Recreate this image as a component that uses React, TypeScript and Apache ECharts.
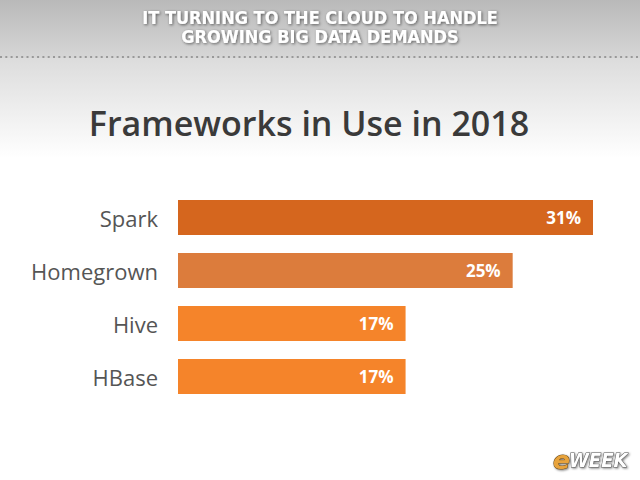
import React, { useEffect, useRef } from "react";
import * as echarts from "echarts";

const categories = ["Spark", "Homegrown", "Hive", "HBase"];
const values = [31, 25, 17, 17];
const barColors = ["#D5661E", "#DC7C3C", "#F5842A", "#F5842A"];
const headerLines = ["IT TURNING TO THE CLOUD TO HANDLE", "GROWING BIG DATA DEMANDS"];
const chartTitle = "Frameworks in Use in 2018";

export default function App() {
  const ref = useRef<HTMLDivElement>(null);
  useEffect(() => {
    if (!ref.current) return;
    const chart = echarts.init(ref.current, null, { renderer: "svg" });
    chart.setOption({
      animation: false,
      backgroundColor: "#ffffff",
      graphic: [
        {
          type: "rect",
          z: -10,
          shape: { x: 0, y: 0, width: 640, height: 58 },
          style: {
            fill: new echarts.graphic.LinearGradient(0, 0, 0, 1, [
              { offset: 0, color: "#b9b9b9" },
              { offset: 1, color: "#d6d6d6" },
            ]),
          },
        },
        {
          type: "rect",
          z: -10,
          shape: { x: 0, y: 58, width: 640, height: 100 },
          style: {
            fill: new echarts.graphic.LinearGradient(0, 0, 0, 1, [
              { offset: 0, color: "#dcdcdc" },
              { offset: 1, color: "#ffffff" },
            ]),
          },
        },
        {
          type: "line",
          shape: { x1: 0, y1: 57, x2: 640, y2: 57 },
          style: { stroke: "#999999", lineWidth: 2, lineDash: [2, 3.3] },
        },
        ...headerLines.map((t, i) => ({
          type: "text",
          x: 320,
          y: 17 + i * 19,
          style: {
            text: t,
            fill: "#ffffff",
            font: "bold 18px 'Liberation Sans Narrow', 'DejaVu Sans Condensed', Arial, sans-serif",
            align: "center",
            verticalAlign: "middle",
            textShadowColor: "rgba(0,0,0,0.55)",
            textShadowBlur: 3,
            textShadowOffsetX: 1,
            textShadowOffsetY: 1,
          },
        })),
        {
          type: "text",
          x: 309,
          y: 123,
          style: {
            text: chartTitle,
            fill: "#3a3a3a",
            font: "600 34px 'Open Sans', sans-serif",
            align: "center",
            verticalAlign: "middle",
          },
        },
        {
          type: "text",
          x: 553,
          y: 460,
          style: {
            text: "e",
            fill: "#E8A33A",
            font: "italic bold 25px 'DejaVu Sans', sans-serif",
            align: "left",
            verticalAlign: "middle",
            stroke: "#6b4a1a",
            lineWidth: 1,
            textShadowColor: "rgba(0,0,0,0.5)",
            textShadowBlur: 2,
            textShadowOffsetX: 1,
            textShadowOffsetY: 1,
          },
        },
        {
          type: "text",
          x: 569,
          y: 460,
          style: {
            text: "WEEK",
            fill: "#ffffff",
            font: "italic bold 20px 'DejaVu Sans Condensed', sans-serif",
            align: "left",
            verticalAlign: "middle",
            stroke: "#555555",
            lineWidth: 1,
            textShadowColor: "rgba(0,0,0,0.5)",
            textShadowBlur: 2,
            textShadowOffsetX: 1,
            textShadowOffsetY: 1,
          },
        },
      ],
      grid: { left: 178, top: 191, width: 415, height: 212, containLabel: false },
      xAxis: {
        type: "value",
        min: 0,
        max: 31,
        show: false,
      },
      yAxis: {
        type: "category",
        data: categories,
        inverse: true,
        axisLine: { show: false },
        axisTick: { show: false },
        splitLine: { show: false },
        axisLabel: {
          margin: 20,
          color: "#555555",
          fontSize: 22,
          fontFamily: "'Open Sans', sans-serif",
        },
      },
      series: [
        {
          type: "bar",
          data: values.map((v, i) => ({ value: v, itemStyle: { color: barColors[i] } })),
          barCategoryGap: "34%",
          label: {
            show: true,
            position: "insideRight",
            distance: 12,
            formatter: "{c}%",
            color: "#ffffff",
            fontSize: 17,
            fontWeight: "bold",
            fontFamily: "'Open Sans', sans-serif",
          },
        },
      ],
    });
    return () => chart.dispose();
  }, []);
  return (
    <div
      ref={ref}
      style={{ position: "fixed", left: 0, top: 0, width: 640, height: 480 }}
    />
  );
}
